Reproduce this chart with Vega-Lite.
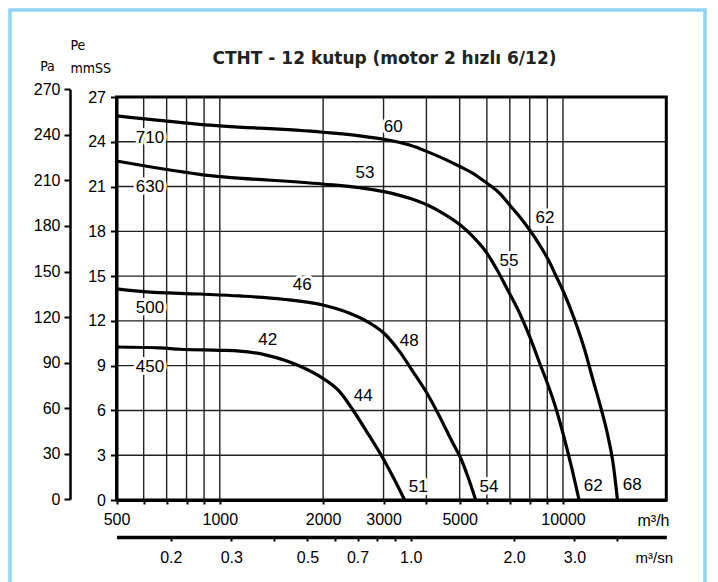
{
  "$schema": "https://vega.github.io/schema/vega-lite/v6.json",
  "width": 695,
  "height": 574,
  "autosize": {"type": "none"},
  "padding": {"left": 10, "top": 10, "right": 13, "bottom": 0},
  "background": "white",
  "config": {
    "view": {"stroke": "#8fd4f4", "strokeWidth": 3.5, "fill": "white"},
    "font": "Liberation Sans, Arial, sans-serif",
    "axisX": {
      "orient": "bottom", "offset": -84,
      "format": "d",
      "labelExpr": "indexof([500,1000,2000,3000,5000,10000], datum.value) >= 0 ? datum.label : ''",
      "labelOverlap": false, "labelFlush": false, "labelBound": false,
      "labelFont": "Liberation Sans", "labelFontSize": 16, "labelColor": "black", "labelPadding": 7,
      "ticks": true, "tickSize": 4, "tickWidth": 2, "tickColor": "black",
      "domain": true, "domainColor": "black", "domainWidth": 3,
      "grid": false,
      "titleFont": "Liberation Sans", "titleFontSize": 16, "titleFontWeight": "normal",
      "titleColor": "black", "titleX": 627, "titleY": 20, "titleAlign": "left", "titleBaseline": "middle"
    },
    "axisY": {
      "orient": "left", "offset": -106.5,
      "labelOverlap": false, "labelFlush": false, "labelBound": false,
      "labelFont": "Liberation Sans", "labelFontSize": 16, "labelColor": "black", "labelPadding": 5,
      "tickSize": 6, "tickWidth": 2, "tickColor": "black",
      "domain": true, "domainColor": "black", "domainWidth": 3,
      "grid": false,
      "titleAngle": 0, "titleX": -46.5, "titleY": 35.5,
      "titleAlign": "left", "titleBaseline": "middle", "titleLineHeight": 23,
      "titleFont": "DejaVu Sans Condensed, DejaVu Sans", "titleFontSize": 14, "titleFontWeight": "normal", "titleColor": "black"
    }
  },
  "title": {
    "text": "CTHT - 12 kutup (motor 2 hızlı 6/12)",
    "font": "DejaVu Sans",
    "fontSize": 17,
    "fontWeight": "bold",
    "color": "#222222",
    "anchor": "middle",
    "frame": "group",
    "dx": 27,
    "offset": -66,
    "baseline": "middle"
  },
  "datasets": {
    "curves": [
      {"fan": "710", "q": 500, "pe": 25.73},
      {"fan": "710", "q": 873, "pe": 25.17},
      {"fan": "710", "q": 1993, "pe": 24.64},
      {"fan": "710", "q": 2556, "pe": 24.4},
      {"fan": "710", "q": 3008, "pe": 24.17},
      {"fan": "710", "q": 3574, "pe": 23.78},
      {"fan": "710", "q": 4025, "pe": 23.34},
      {"fan": "710", "q": 4471, "pe": 22.89},
      {"fan": "710", "q": 5023, "pe": 22.33},
      {"fan": "710", "q": 5467, "pe": 21.89},
      {"fan": "710", "q": 6005, "pe": 21.22},
      {"fan": "710", "q": 6540, "pe": 20.55},
      {"fan": "710", "q": 6993, "pe": 19.76},
      {"fan": "710", "q": 7477, "pe": 18.98},
      {"fan": "710", "q": 7998, "pe": 18.09},
      {"fan": "710", "q": 8554, "pe": 17.08},
      {"fan": "710", "q": 9069, "pe": 16.08},
      {"fan": "710", "q": 9568, "pe": 14.96},
      {"fan": "710", "q": 9981, "pe": 14.07},
      {"fan": "710", "q": 10819, "pe": 12.06},
      {"fan": "710", "q": 11570, "pe": 10.05},
      {"fan": "710", "q": 12232, "pe": 8.04},
      {"fan": "710", "q": 12946, "pe": 6.03},
      {"fan": "710", "q": 13532, "pe": 4.24},
      {"fan": "710", "q": 13994, "pe": 2.46},
      {"fan": "710", "q": 14413, "pe": 0},
      {"fan": "630", "q": 500, "pe": 22.71},
      {"fan": "630", "q": 873, "pe": 21.82},
      {"fan": "630", "q": 1993, "pe": 21.17},
      {"fan": "630", "q": 2556, "pe": 20.92},
      {"fan": "630", "q": 3008, "pe": 20.66},
      {"fan": "630", "q": 3574, "pe": 20.21},
      {"fan": "630", "q": 4025, "pe": 19.76},
      {"fan": "630", "q": 4471, "pe": 19.21},
      {"fan": "630", "q": 5023, "pe": 18.42},
      {"fan": "630", "q": 5467, "pe": 17.64},
      {"fan": "630", "q": 6005, "pe": 16.53},
      {"fan": "630", "q": 6453, "pe": 15.34},
      {"fan": "630", "q": 6901, "pe": 14.07},
      {"fan": "630", "q": 7477, "pe": 12.51},
      {"fan": "630", "q": 7998, "pe": 10.94},
      {"fan": "630", "q": 8554, "pe": 9.16},
      {"fan": "630", "q": 9046, "pe": 7.7},
      {"fan": "630", "q": 9568, "pe": 6.03},
      {"fan": "630", "q": 10118, "pe": 4.02},
      {"fan": "630", "q": 10582, "pe": 2.23},
      {"fan": "630", "q": 11138, "pe": 0},
      {"fan": "500", "q": 500, "pe": 14.14},
      {"fan": "500", "q": 600, "pe": 13.96},
      {"fan": "500", "q": 873, "pe": 13.8},
      {"fan": "500", "q": 1142, "pe": 13.67},
      {"fan": "500", "q": 1527, "pe": 13.45},
      {"fan": "500", "q": 1997, "pe": 13.06},
      {"fan": "500", "q": 2389, "pe": 12.51},
      {"fan": "500", "q": 2673, "pe": 11.99},
      {"fan": "500", "q": 3008, "pe": 11.17},
      {"fan": "500", "q": 3342, "pe": 9.94},
      {"fan": "500", "q": 3654, "pe": 8.6},
      {"fan": "500", "q": 4015, "pe": 7.15},
      {"fan": "500", "q": 4372, "pe": 5.58},
      {"fan": "500", "q": 4779, "pe": 3.8},
      {"fan": "500", "q": 5017, "pe": 2.88},
      {"fan": "500", "q": 5287, "pe": 1.54},
      {"fan": "500", "q": 5567, "pe": 0},
      {"fan": "450", "q": 500, "pe": 10.25},
      {"fan": "450", "q": 668, "pe": 10.19},
      {"fan": "450", "q": 766, "pe": 10.1},
      {"fan": "450", "q": 1000, "pe": 10.03},
      {"fan": "450", "q": 1142, "pe": 9.98},
      {"fan": "450", "q": 1366, "pe": 9.71},
      {"fan": "450", "q": 1708, "pe": 8.98},
      {"fan": "450", "q": 1997, "pe": 8.15},
      {"fan": "450", "q": 2234, "pe": 7.26},
      {"fan": "450", "q": 2443, "pe": 6.03},
      {"fan": "450", "q": 2673, "pe": 4.62},
      {"fan": "450", "q": 3008, "pe": 2.68},
      {"fan": "450", "q": 3232, "pe": 1.34},
      {"fan": "450", "q": 3456, "pe": 0}
    ],
    "vgrid": [
      {"q": 600}, {"q": 700}, {"q": 800}, {"q": 900}, {"q": 1000},
      {"q": 2000}, {"q": 3000}, {"q": 4000}, {"q": 5000}, {"q": 6000},
      {"q": 7000}, {"q": 8000}, {"q": 9000}, {"q": 10000}
    ],
    "hgrid": [
      {"pe": 3}, {"pe": 6}, {"pe": 9}, {"pe": 12}, {"pe": 15}, {"pe": 18}, {"pe": 21}, {"pe": 24}
    ],
    "labels": [
      {"t": "710", "q": 626, "pe": 24.23},
      {"t": "630", "q": 626, "pe": 20.99},
      {"t": "500", "q": 626, "pe": 12.88},
      {"t": "450", "q": 626, "pe": 8.93},
      {"t": "60", "q": 3203, "pe": 24.97},
      {"t": "53", "q": 2650, "pe": 21.89},
      {"t": "62", "q": 8864, "pe": 18.87},
      {"t": "55", "q": 6961, "pe": 16.03},
      {"t": "46", "q": 1739, "pe": 14.4},
      {"t": "42", "q": 1379, "pe": 10.72},
      {"t": "48", "q": 3566, "pe": 10.65},
      {"t": "44", "q": 2619, "pe": 6.97},
      {"t": "51", "q": 3788, "pe": 0.89},
      {"t": "54", "q": 6086, "pe": 0.89},
      {"t": "62", "q": 12254, "pe": 0.94},
      {"t": "68", "q": 15917, "pe": 1.0}
    ]
  },
  "layer": [
    {
      "layer": [
        {
          "data": {"name": "vgrid"},
          "mark": {"type": "rule", "color": "#222222", "strokeWidth": 1.4},
          "encoding": {
            "x": {"field": "q", "type": "quantitative", "title": "m³/h",
              "scale": {"type": "log", "domain": [500, 20000], "range": [106.5, 656.3], "nice": false},
              "axis": {"values": [500, 600, 700, 800, 900, 1000, 2000, 3000, 4000, 5000, 6000, 7000, 8000, 9000, 10000]}},
            "y": {"datum": 0, "type": "quantitative", "title": ["Pe", "mmSS"],
              "scale": {"domain": [0, 27], "range": [490, 87], "nice": false, "zero": false},
              "axis": {"values": [0, 3, 6, 9, 12, 15, 18, 21, 24, 27]}},
            "y2": {"datum": 27}
          }
        },
        {
          "data": {"name": "hgrid"},
          "mark": {"type": "rule", "color": "#222222", "strokeWidth": 1.4},
          "encoding": {
            "y": {"field": "pe", "type": "quantitative", "title": ["Pe", "mmSS"],
              "scale": {"domain": [0, 27], "range": [490, 87], "nice": false, "zero": false},
              "axis": {"values": [0, 3, 6, 9, 12, 15, 18, 21, 24, 27]}},
            "x": {"datum": 500, "type": "quantitative", "title": "m³/h",
              "scale": {"type": "log", "domain": [500, 20000], "range": [106.5, 656.3], "nice": false},
              "axis": {"values": [500, 600, 700, 800, 900, 1000, 2000, 3000, 4000, 5000, 6000, 7000, 8000, 9000, 10000]}},
            "x2": {"datum": 20000}
          }
        },
        {
          "data": {"name": "labels"},
          "mark": {"type": "text", "font": "Liberation Sans", "fontSize": 17, "align": "center", "baseline": "middle", "fill": "white", "stroke": "white", "strokeWidth": 6, "strokeJoin": "round"},
          "encoding": {
            "x": {"field": "q", "type": "quantitative", "title": "m³/h",
              "scale": {"type": "log", "domain": [500, 20000], "range": [106.5, 656.3], "nice": false},
              "axis": {"values": [500, 600, 700, 800, 900, 1000, 2000, 3000, 4000, 5000, 6000, 7000, 8000, 9000, 10000]}},
            "y": {"field": "pe", "type": "quantitative", "title": ["Pe", "mmSS"],
              "scale": {"domain": [0, 27], "range": [490, 87], "nice": false, "zero": false},
              "axis": {"values": [0, 3, 6, 9, 12, 15, 18, 21, 24, 27]}},
            "text": {"field": "t"}
          }
        },
        {
          "data": {"name": "curves"},
          "mark": {"type": "line", "color": "black", "strokeWidth": 3.2, "interpolate": "monotone", "strokeCap": "round"},
          "encoding": {
            "x": {"field": "q", "type": "quantitative", "title": "m³/h",
              "scale": {"type": "log", "domain": [500, 20000], "range": [106.5, 656.3], "nice": false},
              "axis": {"values": [500, 600, 700, 800, 900, 1000, 2000, 3000, 4000, 5000, 6000, 7000, 8000, 9000, 10000]}},
            "y": {"field": "pe", "type": "quantitative", "title": ["Pe", "mmSS"],
              "scale": {"domain": [0, 27], "range": [490, 87], "nice": false, "zero": false},
              "axis": {"values": [0, 3, 6, 9, 12, 15, 18, 21, 24, 27]}},
            "detail": {"field": "fan"}
          }
        },
        {
          "data": {"name": "labels"},
          "mark": {"type": "text", "font": "Liberation Sans", "fontSize": 17, "align": "center", "baseline": "middle", "color": "black"},
          "encoding": {
            "x": {"field": "q", "type": "quantitative", "title": "m³/h",
              "scale": {"type": "log", "domain": [500, 20000], "range": [106.5, 656.3], "nice": false},
              "axis": {"values": [500, 600, 700, 800, 900, 1000, 2000, 3000, 4000, 5000, 6000, 7000, 8000, 9000, 10000]}},
            "y": {"field": "pe", "type": "quantitative", "title": ["Pe", "mmSS"],
              "scale": {"domain": [0, 27], "range": [490, 87], "nice": false, "zero": false},
              "axis": {"values": [0, 3, 6, 9, 12, 15, 18, 21, 24, 27]}},
            "text": {"field": "t"}
          }
        },
        {
          "data": {"values": [{}]},
          "mark": {"type": "rect", "filled": false, "color": "black", "stroke": "black", "strokeWidth": 3},
          "encoding": {
            "x": {"datum": 500, "type": "quantitative", "title": "m³/h",
              "scale": {"type": "log", "domain": [500, 20000], "range": [106.5, 656.3], "nice": false},
              "axis": {"values": [500, 600, 700, 800, 900, 1000, 2000, 3000, 4000, 5000, 6000, 7000, 8000, 9000, 10000]}},
            "x2": {"datum": 20000},
            "y": {"datum": 0, "type": "quantitative", "title": ["Pe", "mmSS"],
              "scale": {"domain": [0, 27], "range": [490, 87], "nice": false, "zero": false},
              "axis": {"values": [0, 3, 6, 9, 12, 15, 18, 21, 24, 27]}},
            "y2": {"datum": 27}
          }
        }
      ]
    },
    {
      "data": {"values": [{"pa": 0}]},
      "mark": {"type": "point", "opacity": 0},
      "encoding": {
        "y": {
          "field": "pa", "type": "quantitative",
          "scale": {"domain": [0, 270], "range": [489.3, 79.3], "nice": false, "zero": false},
          "axis": {
            "orient": "left", "offset": -60,
            "values": [0, 30, 60, 90, 120, 150, 180, 210, 240, 270],
            "labelOverlap": false, "labelFlush": false, "labelBound": false,
            "labelFont": "Liberation Sans", "labelFontSize": 16, "labelColor": "black", "labelPadding": 4,
            "tickSize": 6, "tickWidth": 2, "tickColor": "black",
            "domain": true, "domainColor": "black", "domainWidth": 2.5,
            "grid": false,
            "title": "Pa", "titleAngle": 0, "titleX": -23, "titleY": 56,
            "titleAlign": "center", "titleBaseline": "middle", "titleLineHeight": 16,
            "titleFont": "DejaVu Sans Condensed, DejaVu Sans", "titleFontSize": 14, "titleFontWeight": "normal", "titleColor": "black"
          }
        }
      }
    },
    {
      "data": {"values": [{"s": 1}]},
      "mark": {"type": "point", "opacity": 0},
      "encoding": {
        "x": {
          "field": "s", "type": "quantitative",
          "scale": {"type": "log", "domain": [0.1388889, 5.555556], "range": [106.5, 656.3], "nice": false},
          "axis": {
            "orient": "bottom", "offset": -47,
            "values": [0.2, 0.3, 0.4, 0.5, 0.6, 0.7, 0.8, 0.9, 1, 2, 3, 4],
            "format": ".1f",
            "labelExpr": "indexof([0.2,0.3,0.5,0.7,1,2,3], datum.value) >= 0 ? format(datum.value, '.1f') : ''",
            "labelOverlap": false, "labelFlush": false, "labelBound": false,
            "labelFont": "Liberation Sans", "labelFontSize": 16, "labelColor": "black", "labelPadding": 8,
            "tickSize": 4, "tickWidth": 2, "tickColor": "black",
            "domain": true, "domainColor": "black", "domainWidth": 3.5,
            "grid": false,
            "title": "m³/sn", "titleFont": "Liberation Sans", "titleFontSize": 15, "titleFontWeight": "normal",
            "titleColor": "black", "titleX": 625, "titleY": 20, "titleAlign": "left", "titleBaseline": "middle"
          }
        }
      }
    }
  ],
  "resolve": {"scale": {"x": "independent", "y": "independent"}}
}
